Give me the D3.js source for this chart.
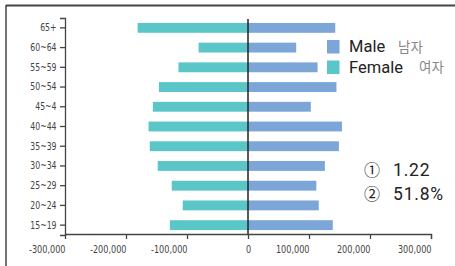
<!DOCTYPE html>
<html>
<head>
<meta charset="utf-8">
<script src="https://cdn.jsdelivr.net/npm/d3@7"></script>
<style>
  body { margin: 0; background: #fff; }
  svg { display: block; }
  .tick text { font-family: "DejaVu Sans Condensed", "DejaVu Sans", sans-serif; fill: #444; }
</style>
</head>
<body>
<svg id="chart" width="455" height="266"></svg>
<script>
// age groups, top to bottom (label "45~4" as printed)
const ageGroups = ["65+", "60~64", "55~59", "50~54", "45~4", "40~44", "35~39", "30~34", "25~29", "20~24", "15~19"]
const male   = [143000, 79000, 114000, 145000, 103000, 154000, 149000, 126000, 112000, 116000, 139000]
const female = [181000, 81000, 114000, 146000, 156000, 163000, 161000, 148000, 125000, 107000, 128000]
const xTicks = [-300000, -200000, -100000, 0, 100000, 200000, 300000]
const legendItems = [["Male", "남자"], ["Female", "여자"]]
const notes = [["①", "1.22"], ["②", "51.8%"]]

const colors = { Male: "#7ba6d7", Female: "#5bc6c8" }

const svg = d3.select("#chart")

// frame (top + left edge, rest cropped)
svg.append("line").attr("x1", 6).attr("x2", 455).attr("y1", 5.5).attr("y2", 5.5)
  .attr("stroke", "#444").attr("stroke-width", 2)
svg.append("line").attr("x1", 6).attr("x2", 6).attr("y1", 5).attr("y2", 266)
  .attr("stroke", "#444").attr("stroke-width", 1.5)

const x = d3.scaleLinear().domain([-300000, 300000]).range([65, 431])
const y = d3.scaleBand().domain(ageGroups).range([18, 235]).paddingInner(0.5).paddingOuter(0.25)

// bars
const g = svg.append("g")
g.selectAll("rect.f").data(ageGroups).join("rect").attr("class", "f")
  .attr("x", (d, i) => x(-female[i])).attr("width", (d, i) => x(0) - x(-female[i]))
  .attr("y", d => y(d)).attr("height", y.bandwidth())
  .attr("fill", colors.Female)
g.selectAll("rect.m").data(ageGroups).join("rect").attr("class", "m")
  .attr("x", x(0)).attr("width", (d, i) => x(male[i]) - x(0))
  .attr("y", d => y(d)).attr("height", y.bandwidth())
  .attr("fill", colors.Male)

// zero line
svg.append("line").attr("x1", x(0)).attr("x2", x(0)).attr("y1", 19).attr("y2", 234)
  .attr("stroke", "#222").attr("stroke-width", 1.5)

// axes - labels squeezed horizontally to look like the condensed face of the original
const yAxis = svg.append("g").attr("transform", "translate(65,0)")
  .call(d3.axisLeft(y).tickSize(5).tickSizeOuter(5).tickPadding(0))
yAxis.selectAll("text").attr("font-size", 10.5).attr("x", -8.5 / 0.82)
  .attr("transform", "scale(0.82,1)")

const fmt = d => d3.format(",")(d).replace("−", "-")
const xAxis = svg.append("g").attr("transform", "translate(0,234)")
  .call(d3.axisBottom(x).tickValues(xTicks).tickFormat(fmt).tickSize(5).tickSizeOuter(5).tickPadding(7))
xAxis.selectAll("text").attr("font-size", 10.5).attr("text-anchor", d => d === 0 ? "middle" : "end")
  .attr("transform", "scale(0.86,1)")
xAxis.selectAll(".tick").filter(d => d === -300000).select("line").remove()

svg.selectAll(".domain, .tick line").attr("stroke", "#444").attr("stroke-width", 1.3)

// legend
const leg = svg.append("g")
legendItems.forEach(([en, ko], i) => {
  const yy = 40 + i * 20.5
  leg.append("rect").attr("x", 327).attr("y", yy).attr("width", 12.5).attr("height", 13.5)
    .attr("fill", colors[en])
  leg.append("text").attr("x", 349).attr("y", yy + 12).text(en)
    .attr("font-family", "Roboto, sans-serif").attr("font-size", 16.5).attr("fill", "#222")
  leg.append("text").attr("x", i === 0 ? 398 : 419).attr("y", yy + 11.5).text(ko)
    .attr("font-family", "Noto Sans CJK KR, sans-serif").attr("font-size", 13.5).attr("fill", "#888")
})

// notes
notes.forEach(([mark, val], i) => {
  const yy = 176 + i * 24
  svg.append("text").attr("x", 364).attr("y", yy).text(mark)
    .attr("font-family", "Noto Sans CJK KR, sans-serif").attr("font-size", 16).attr("fill", "#222")
  svg.append("text").attr("x", 393).attr("y", yy).text(val)
    .attr("font-family", "Roboto, sans-serif").attr("font-size", 17.5).attr("letter-spacing", 0.8)
    .attr("fill", "#222")
})
</script>
</body>
</html>
